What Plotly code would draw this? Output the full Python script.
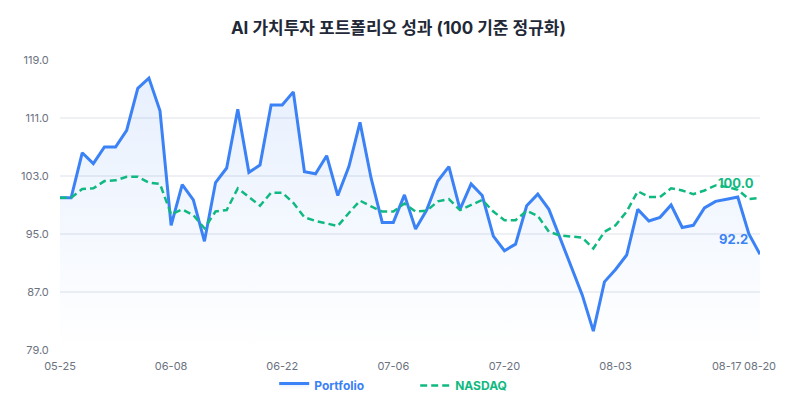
import plotly.graph_objects as go

# trading days, 2020-05-25 .. 2020-08-20
dates = [
    "05-25", "05-26", "05-27", "05-28", "05-29",
    "06-01", "06-02", "06-03", "06-04", "06-05",
    "06-08", "06-09", "06-10", "06-11", "06-12",
    "06-15", "06-16", "06-17", "06-18", "06-19",
    "06-22", "06-23", "06-24", "06-25", "06-26",
    "06-29", "06-30", "07-01", "07-02", "07-03",
    "07-06", "07-07", "07-08", "07-09", "07-10",
    "07-13", "07-14", "07-15", "07-16", "07-17",
    "07-20", "07-21", "07-22", "07-23", "07-24",
    "07-27", "07-28", "07-29", "07-30", "07-31",
    "08-03", "08-04", "08-05", "08-06", "08-07",
    "08-10", "08-11", "08-12", "08-13", "08-14",
    "08-17", "08-18", "08-19", "08-20",
]

portfolio = [
    100.0, 100.0, 106.2, 104.7, 107.0, 107.0, 109.3, 115.1, 116.5, 112.0,
    96.2, 101.8, 99.7, 94.0, 102.1, 104.1, 112.2, 103.5, 104.5, 112.8,
    112.8, 114.6, 103.6, 103.3, 105.8, 100.3, 104.3, 110.4, 102.7, 96.6,
    96.6, 100.4, 95.7, 98.3, 102.3, 104.3, 98.4, 101.9, 100.3, 94.7,
    92.7, 93.6, 98.9, 100.5, 98.4, 94.4, 90.6, 86.6, 81.6, 88.4,
    90.1, 92.1, 98.4, 96.8, 97.3, 99.0, 95.9, 96.2, 98.6, 99.5,
    99.8, 100.1, 95.0, 92.2,
]

nasdaq = [
    100.0, 100.0, 101.2, 101.3, 102.3, 102.4, 102.9, 102.9, 102.1, 101.9,
    97.7, 98.4, 97.6, 95.8, 98.1, 98.3, 101.3, 100.1, 98.9, 100.7,
    100.7, 99.3, 97.3, 96.8, 96.4, 96.1, 97.9, 99.6, 98.8, 98.1,
    98.1, 99.2, 98.1, 98.2, 99.5, 99.8, 98.3, 99.0, 99.7, 98.1,
    96.9, 96.9, 98.2, 97.5, 95.3, 94.8, 94.6, 94.5, 93.0, 95.3,
    96.2, 98.1, 100.9, 100.1, 100.1, 101.3, 101.0, 100.5, 101.0, 101.7,
    101.5, 101.1, 99.8, 100.0,
]

y_ticks = [79.0, 87.0, 95.0, 103.0, 111.0, 119.0]
x_ticks = ["05-25", "06-08", "06-22", "07-06", "07-20", "08-03", "08-17", "08-20"]

BLUE = "#3b82f6"
GREEN = "#10b981"
FONT = "Inter, 'Noto Sans CJK KR', sans-serif"

fig = go.Figure()

fig.add_trace(go.Scatter(
    x=dates, y=portfolio,
    mode="lines",
    name=f"<span style='color:{BLUE}'><b>Portfolio</b></span>",
    line=dict(color=BLUE, width=3),
    fill="tozeroy",
    fillgradient=dict(
        type="vertical",
        start=79, stop=119,
        colorscale=[[0, "rgba(59,130,246,0.0)"], [1, "rgba(59,130,246,0.13)"]],
    ),
))

fig.add_trace(go.Scatter(
    x=dates, y=nasdaq,
    mode="lines",
    name=f"<span style='color:{GREEN}'><b>NASDAQ</b></span>",
    line=dict(color=GREEN, width=2.5, dash="7px,4px"),
))

# end value labels
fig.add_annotation(
    x=dates[-1], y=portfolio[-1], text=f"<b>{portfolio[-1]:.1f}</b>",
    showarrow=False, xanchor="right", yanchor="bottom",
    xshift=-10, yshift=5, font=dict(color=BLUE, size=13, family=FONT),
)
fig.add_annotation(
    x=dates[-1], y=nasdaq[-1], text=f"<b>{nasdaq[-1]:.1f}</b>",
    showarrow=False, xanchor="right", yanchor="bottom",
    xshift=-4, yshift=5, font=dict(color=GREEN, size=13, family=FONT),
)

# page body adds an 8px offset, so margins are trimmed to compensate
fig.update_layout(
    width=800, height=400,
    margin=dict(l=52, r=48, t=52, b=58, autoexpand=False),
    paper_bgcolor="white", plot_bgcolor="white",
    font=dict(family=FONT, size=11, color="#6b7280"),
    title=dict(
        text="<b>AI 가치투자 포트폴리오 성과 (100 기준 정규화)</b>",
        x=0.488, xanchor="center", y=0.95, yanchor="middle",
        font=dict(size=17, color="#1f2937", family=FONT),
    ),
    showlegend=True,
    legend=dict(
        orientation="h", x=0.306, xanchor="left", y=-0.122, yanchor="middle",
        font=dict(size=12, family=FONT), itemwidth=30,
        entrywidth=96, entrywidthmode="pixels",
    ),
    hovermode="x unified",
)

fig.update_xaxes(
    type="category", range=[0, len(dates) - 1], automargin=False,
    tickvals=x_ticks, ticktext=x_ticks,
    showgrid=False, showline=False, zeroline=False,
    ticks="outside", ticklen=6, tickcolor="rgba(0,0,0,0)",
    tickfont=dict(size=11, color="#6b7280"),
)
fig.update_yaxes(
    range=[79, 119], tickvals=y_ticks, tickformat=".1f", automargin=False,
    showgrid=True, gridcolor="#eef0f4", gridwidth=1.5,
    zeroline=False, showline=False,
    ticks="outside", ticklen=8, tickcolor="rgba(0,0,0,0)",
    tickfont=dict(size=11, color="#6b7280"),
)

fig.write_html("out.html")
